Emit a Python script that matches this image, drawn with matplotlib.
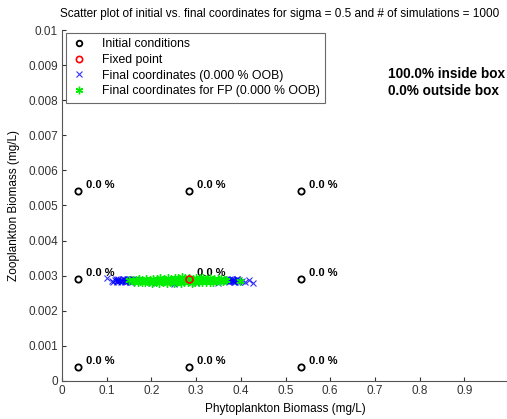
import matplotlib
matplotlib.use("Agg")
import matplotlib.pyplot as plt

plt.rcParams['font.family'] = ['Liberation Sans', 'DejaVu Sans']

# initial conditions (grid of 9 starting points)
init_x = [0.035, 0.285, 0.535, 0.035, 0.285, 0.535, 0.035, 0.285, 0.535]
init_y = [0.0054, 0.0054, 0.0054, 0.0029, 0.0029, 0.0029, 0.0004, 0.0004, 0.0004]
init_pct = ['0.0 %'] * 9

# fixed point
fp_x = [0.285]
fp_y = [0.0029]

# final coordinates (blue x)
blue_x = [0.100, 0.112, 0.118, 0.122, 0.125, 0.128, 0.132, 0.135, 0.138, 0.140,
          0.143, 0.146, 0.148, 0.150, 0.153, 0.155, 0.158, 0.160, 0.162, 0.165,
          0.168, 0.170, 0.200, 0.250, 0.300, 0.350, 0.362, 0.366, 0.370, 0.373,
          0.376, 0.379, 0.382, 0.385, 0.388, 0.391, 0.394, 0.397, 0.403, 0.410,
          0.418, 0.428, 0.120, 0.126, 0.131, 0.137, 0.142, 0.147, 0.152, 0.157,
          0.115, 0.124, 0.134, 0.144, 0.154, 0.368, 0.374, 0.380, 0.386, 0.392,
          0.371, 0.383, 0.395]
blue_y = [0.00293, 0.00286, 0.00289, 0.00285, 0.00288, 0.00284, 0.00289, 0.00286, 0.00290, 0.00284,
          0.00288, 0.00291, 0.00285, 0.00289, 0.00283, 0.00287, 0.00291, 0.00285, 0.00289, 0.00292,
          0.00284, 0.00288, 0.00278, 0.00277, 0.00278, 0.00280, 0.00285, 0.00289, 0.00284, 0.00288,
          0.00291, 0.00285, 0.00289, 0.00283, 0.00287, 0.00290, 0.00284, 0.00288, 0.00286, 0.00283,
          0.00287, 0.00280, 0.00291, 0.00292, 0.00283, 0.00292, 0.00282, 0.00292, 0.00292, 0.00283,
          0.00282, 0.00283, 0.00284, 0.00284, 0.00283, 0.00292, 0.00282, 0.00292, 0.00282, 0.00291,
          0.00287, 0.00286, 0.00282]

# final coordinates for FP (green asterisks)
green_x = [0.150, 0.158, 0.165, 0.172, 0.180, 0.188, 0.196, 0.204, 0.212, 0.220,
           0.228, 0.236, 0.244, 0.252, 0.260, 0.268, 0.276, 0.284, 0.292, 0.300,
           0.308, 0.316, 0.324, 0.332, 0.340, 0.348, 0.356, 0.362, 0.366,
           0.162, 0.170, 0.178, 0.186, 0.194, 0.202, 0.210, 0.218, 0.226, 0.234,
           0.242, 0.250, 0.258, 0.266, 0.274, 0.282, 0.290, 0.298, 0.306, 0.314,
           0.322, 0.330, 0.338, 0.346, 0.354, 0.360,
           0.175, 0.190, 0.205, 0.220, 0.235, 0.250, 0.265, 0.280, 0.295, 0.310,
           0.325, 0.340, 0.352, 0.398]
green_y = [0.00287, 0.00289, 0.00287, 0.00290, 0.00288, 0.00291, 0.00289, 0.00292, 0.00290, 0.00293,
           0.00291, 0.00294, 0.00292, 0.00294, 0.00293, 0.00295, 0.00293, 0.00294, 0.00292, 0.00294,
           0.00293, 0.00294, 0.00292, 0.00293, 0.00291, 0.00291, 0.00290, 0.00289, 0.00288,
           0.00283, 0.00282, 0.00283, 0.00281, 0.00282, 0.00280, 0.00282, 0.00280, 0.00281, 0.00279,
           0.00281, 0.00280, 0.00282, 0.00280, 0.00281, 0.00282, 0.00280, 0.00282, 0.00281, 0.00283,
           0.00282, 0.00283, 0.00282, 0.00284, 0.00284, 0.00285,
           0.00286, 0.00286, 0.00286, 0.00287, 0.00286, 0.00287, 0.00286, 0.00287, 0.00286, 0.00287,
           0.00287, 0.00287, 0.00287, 0.00286]

x_ticks = [0, 0.1, 0.2, 0.3, 0.4, 0.5, 0.6, 0.7, 0.8, 0.9, 1]
x_tick_labels = ['0', '0.1', '0.2', '0.3', '0.4', '0.5', '0.6', '0.7', '0.8', '0.9', '1']
y_ticks = [0, 0.001, 0.002, 0.003, 0.004, 0.005, 0.006, 0.007, 0.008, 0.009, 0.01]
y_tick_labels = ['0', '0.001', '0.002', '0.003', '0.004', '0.005', '0.006',
                 '0.007', '0.008', '0.009', '0.01']

fig = plt.figure(figsize=(5.07, 4.19), dpi=100)
ax = fig.add_axes([0.1223, 0.0907, 0.8817, 0.8377])

ax.plot(init_x, init_y, 'o', color='black', markerfacecolor='none',
        markersize=4.5, markeredgewidth=1.3, label='Initial conditions', zorder=3)
ax.plot(fp_x, fp_y, 'o', color='red', markerfacecolor='none',
        markersize=5, markeredgewidth=1.2, label='Fixed point', zorder=5)
ax.plot(blue_x, blue_y, 'x', color='blue', markersize=4.5, markeredgewidth=0.8,
        alpha=0.8, label='Final coordinates (0.000 % OOB)', zorder=2)
ax.plot(green_x, green_y, linestyle='none', marker=(6, 2, 0), color='#00ee00',
        markersize=6, markeredgewidth=1.0,
        label='Final coordinates for FP (0.000 % OOB)', zorder=4)

for x, y, s in zip(init_x, init_y, init_pct):
    ax.text(x + 0.018, y + 0.00017, s, fontsize=8, fontweight='bold', va='center')

ax.text(0.729, 0.0085, '100.0% inside box\n0.0% outside box', fontsize=9.8,
        fontweight='bold', va='center', linespacing=1.3)

ax.set_xlim(0, 1)
ax.set_ylim(0, 0.01)
ax.set_xticks(x_ticks)
ax.set_xticklabels(x_tick_labels)
ax.set_yticks(y_ticks)
ax.set_yticklabels(y_tick_labels)
ax.tick_params(direction='in', length=3, labelsize=8.5, colors='#333333', pad=3)
for side in ['top', 'right']:
    ax.spines[side].set_visible(False)
for side in ['left', 'bottom']:
    ax.spines[side].set_color('#555555')
    ax.spines[side].set_linewidth(0.8)

ax.set_xlabel('Phytoplankton Biomass (mg/L)', fontsize=8.5, labelpad=4)
ax.set_ylabel('Zooplankton Biomass (mg/L)', fontsize=8.5, labelpad=6)
# title sits a little left of the axes centre so it fits the figure
fig.text(280 / 507, 1 - 14 / 419,
         'Scatter plot of initial vs. final coordinates for sigma = 0.5 and # of simulations = 1000',
         fontsize=8.5, ha='center', va='center')

leg = ax.legend(loc='upper left', bbox_to_anchor=(0.009, 0.992), fontsize=8.8,
                frameon=True, fancybox=False, handlelength=1.2, handletextpad=1.3,
                borderpad=0.45, labelspacing=0.3, borderaxespad=0, markerscale=0.9)
leg.get_frame().set_edgecolor('#444444')
leg.get_frame().set_linewidth(0.8)

fig.savefig('out.png', dpi=100)
